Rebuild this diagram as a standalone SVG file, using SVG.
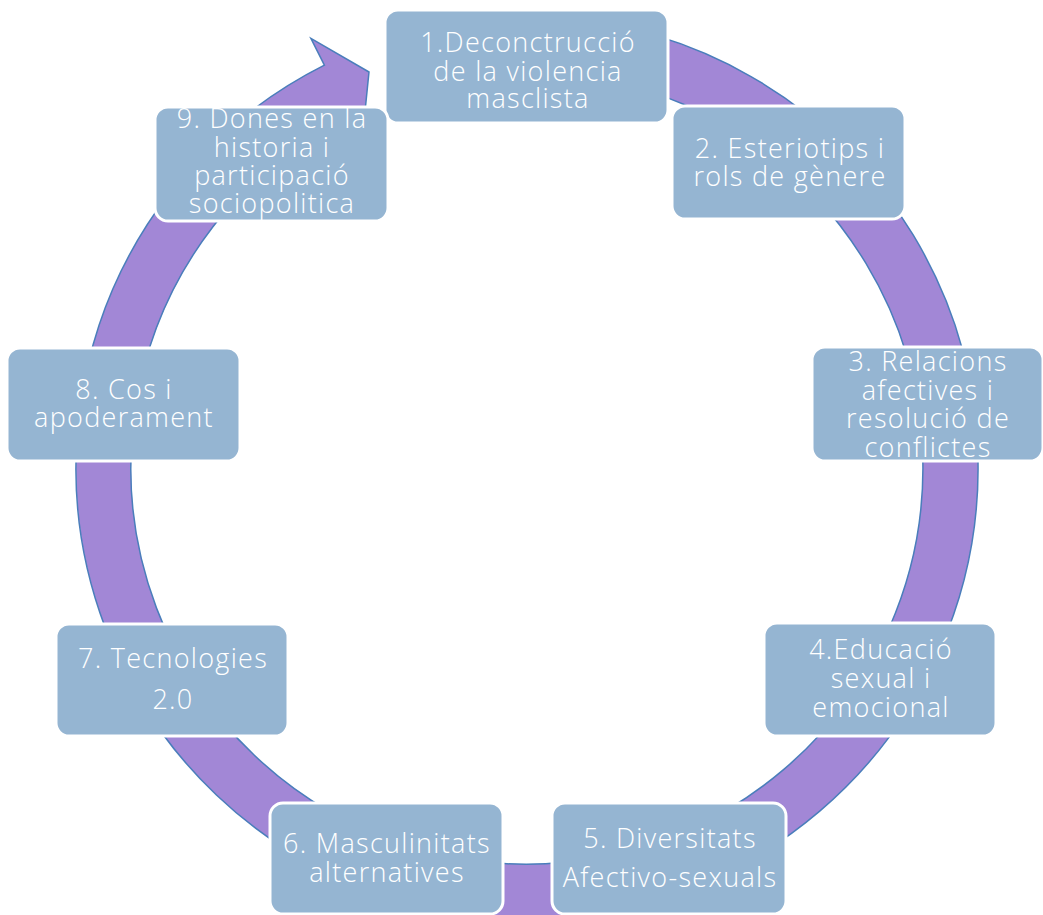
<svg xmlns="http://www.w3.org/2000/svg" width="1043" height="915" viewBox="0 0 1043 915">
<style>
.band{fill:#A287D6;stroke:#4A7EBB;stroke-width:1.5;stroke-linejoin:miter}
.box{fill:#95B5D2;stroke:#FFFFFF;stroke-width:3}
.t{font-family:"Open Sans","Liberation Sans",sans-serif;font-weight:300;font-size:27px;letter-spacing:1.3px;fill:#FFFFFF;text-anchor:middle}
</style>
<rect width="1043" height="915" fill="#FFFFFF"/>
<g id="connectors">
<path class="band" d="M558.5,18.1 A451,451 0 1 1 324.4,65.1 L310.9,38.3 L369,72 L362.1,140.1 L349.1,114.2 A396,396 0 1 0 554.6,73.0 Z"/>
</g>
<g id="node1"><rect class="box" x="385" y="10" width="283" height="113" rx="13"/>
<text class="t" x="528" y="52">1.Deconctrucció</text><text class="t" x="528" y="81">de la violencia</text><text class="t" x="528" y="108">masclista</text></g>
<g id="node2"><rect class="box" x="672" y="106" width="233" height="113" rx="13"/>
<text class="t" x="790" y="158">2. Esteriotips i</text><text class="t" x="790" y="186">rols de gènere</text></g>
<g id="node3"><rect class="box" x="812" y="347" width="231" height="114" rx="13"/>
<text class="t" x="928" y="371">3. Relacions</text><text class="t" x="928" y="400">afectives i</text><text class="t" x="928" y="428">resolució de</text><text class="t" x="928" y="457">conflictes</text></g>
<g id="node4"><rect class="box" x="764" y="623" width="232" height="113" rx="13"/>
<text class="t" x="881" y="659">4.Educació</text><text class="t" x="881" y="688">sexual i</text><text class="t" x="881" y="717">emocional</text></g>
<g id="node5"><rect class="box" x="552" y="803" width="234" height="111" rx="13"/>
<text class="t" x="670" y="848">5. Diversitats</text><text class="t" x="670" y="887">Afectivo-sexuals</text></g>
<g id="node6"><rect class="box" x="270" y="803" width="233" height="111" rx="13"/>
<text class="t" x="387" y="853">6. Masculinitats</text><text class="t" x="387" y="882">alternatives</text></g>
<g id="node7"><rect class="box" x="56" y="624" width="232" height="112" rx="13"/>
<text class="t" x="173" y="668">7. Tecnologies</text><text class="t" x="173" y="709">2.0</text></g>
<g id="node8"><rect class="box" x="7" y="348" width="233" height="113" rx="13"/>
<text class="t" x="124" y="399">8. Cos i</text><text class="t" x="124" y="427">apoderament</text></g>
<g id="node9"><rect class="box" x="155" y="107" width="233" height="114" rx="13"/>
<text class="t" x="272" y="128">9. Dones en la</text><text class="t" x="272" y="157">historia i</text><text class="t" x="272" y="185">participació</text><text class="t" x="272" y="213">sociopolitica</text></g>
</svg>
